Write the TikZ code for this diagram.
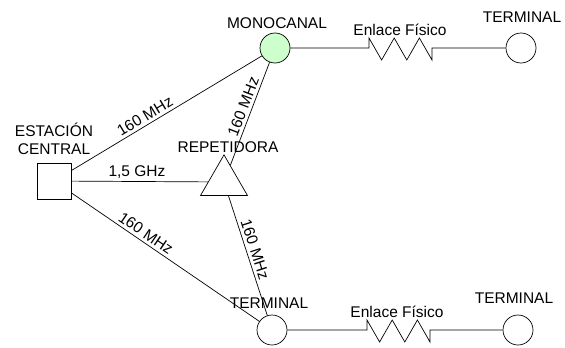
\documentclass[tikz,border=0pt]{standalone}
\usepackage{fontspec}
\setmainfont{Liberation Sans}
\usetikzlibrary{shapes.geometric}
\tikzset{>=latex}
\definecolor{verdeclaro}{RGB}{204,255,204}

\begin{document}
\begin{tikzpicture}[x=1pt,y=-1pt,line width=0.7pt,
		txt/.style={font=\fontsize{15.5}{18}\selectfont,inner sep=3pt},
		equipo/.style={draw,circle,minimum size=30pt,inner sep=0pt},
		enl/.style={txt,sloped,above}]
		\useasboundingbox (0,0) rectangle (565,348);
		\pgfmathsetmacro{\w}{12.6}	% half width of one tooth
		\pgfmathsetmacro{\h}{22}	% height of one tooth

		% the stations
		\node[draw,rectangle,minimum width=34pt,minimum height=36pt] (central) at (54,181) {};
		\node[draw,regular polygon,regular polygon sides=3,minimum size=54.3pt,inner sep=0pt] (rep) at (224,182) {};
		\node[equipo,fill=verdeclaro] (mono) at (275,48) {};
		\node[equipo] (termA) at (521,48) {};
		\node[equipo] (term) at (272,330) {};
		\node[equipo] (termB) at (518,330) {};
		\coordinate (zA) at (369,48);
		\coordinate (zB) at (367,330);

		% their names
		\node[txt,anchor=base] (lmono) at (277,28) {MONOCANAL};
		\node[txt,align=center,anchor=south] (lcentral) at (54,158) {ESTACIÓN\\CENTRAL};
		\node[txt,anchor=base] (lrep) at (228,152) {REPETIDORA};
		\node[txt,anchor=base] (ltermA) at (522,22) {TERMINAL};
		\node[txt,anchor=base] (lterm) at (269,308) {TERMINAL};
		\node[txt,anchor=base] (ltermB) at (514,303) {TERMINAL};

		% the radio links
		\draw (central) -- (mono) node[enl,pos=0.41] {160 MHz};
		\draw (central) -- (rep) node[txt,above,pos=0.48] {1,5 GHz};
		\draw (central) -- (term) node[enl,pos=0.37] {160 MHz};
		\draw (rep) -- (mono) node[enl,pos=0.54] {160 MHz};
		\draw (rep) -- (term) node[enl,pos=0.47] {160 MHz};

		% the wired links
		\draw (mono) -- (zA) -- ++(0,-10) -- ++(\w,\h) -- ++(\w,-\h) -- ++(\w,\h)
			-- ++(\w,-\h) -- ++(\w,\h) -- ++(0,-12) -- (termA);
		\draw (term) -- (zB) -- ++(0,-10) -- ++(\w,\h) -- ++(\w,-\h) -- ++(\w,\h)
			-- ++(\w,-\h) -- ++(\w,\h) -- ++(0,-12) -- (termB);
		\node[txt,anchor=base] (lenlA) at (400,35) {Enlace Físico};
		\node[txt,anchor=base] (lenlB) at (397,317) {Enlace Físico};

	\end{tikzpicture}
\end{document}
